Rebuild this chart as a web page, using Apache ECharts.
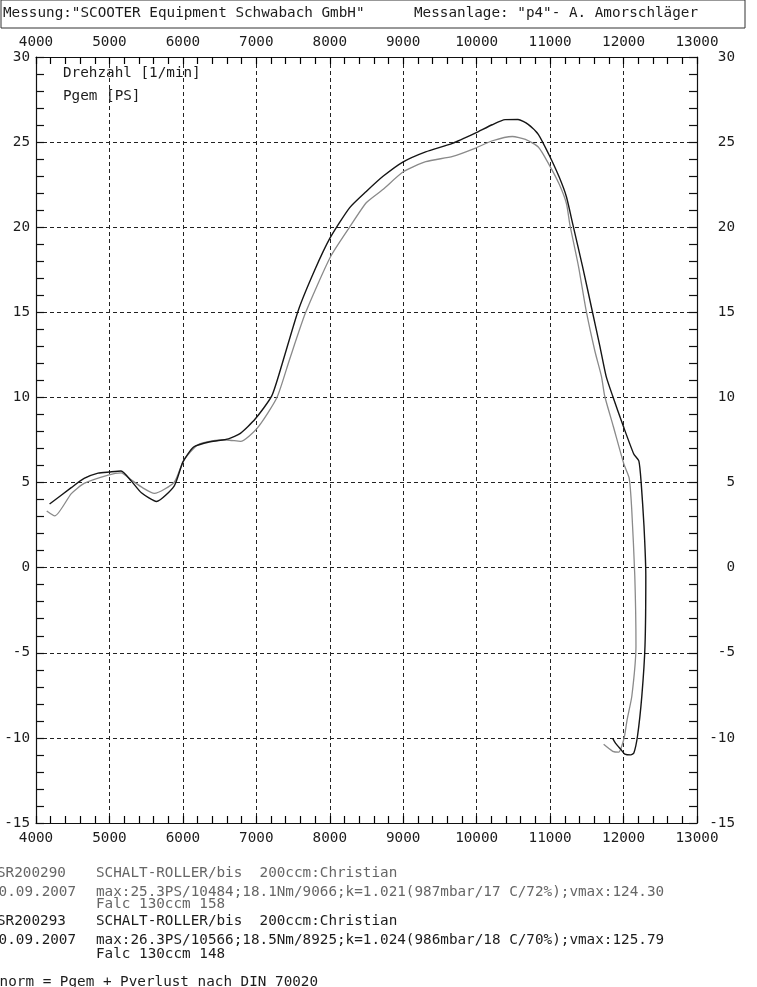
<!DOCTYPE html>
<html>
<head>
<meta charset="utf-8">
<script src="https://cdn.jsdelivr.net/npm/echarts@6/dist/echarts.min.js"></script>
<style>
html,body{margin:0;padding:0;background:#fff;}
#chart{width:757px;height:987px;}
</style>
</head>
<body>
<div id="chart"></div>
<script>
// ---- data ----
const rpmTicks = [4000, 5000, 6000, 7000, 8000, 9000, 10000, 11000, 12000, 13000];
const psTicks = [-15, -10, -5, 0, 5, 10, 15, 20, 25, 30];

// run SR200293 (black, max 26.3 PS / 10566)
const rpmBlack = [4185, 4480, 4655, 4845, 5000, 5158, 5296, 5435, 5641, 5883, 6000, 6146, 6376, 6620, 6783, 6984, 7210, 7352, 7571, 7794, 8004, 8269, 8497, 8725, 8994, 9305, 9670, 9981, 10211, 10387, 10563, 10701, 10839, 10980, 11122, 11222, 11310, 11442, 11575, 11678, 11763, 11853, 11996, 12139, 12208, 12240, 12278, 12303, 12292, 12249, 12190, 12140, 12099, 12017, 11962, 11892, 11851];
const psBlack = [3.74, 4.70, 5.24, 5.55, 5.62, 5.68, 5.10, 4.40, 3.89, 4.81, 6.20, 7.09, 7.40, 7.57, 7.89, 8.73, 10.09, 11.98, 15.11, 17.47, 19.37, 21.14, 22.10, 22.99, 23.83, 24.43, 24.93, 25.53, 26.02, 26.32, 26.33, 26.04, 25.46, 24.30, 22.96, 21.79, 20.15, 17.69, 15.05, 13.00, 11.24, 10.07, 8.32, 6.68, 6.27, 4.98, 2.46, -0.48, -4.59, -7.53, -9.89, -10.89, -11.0, -10.95, -10.67, -10.32, -10.02];

// run SR200290 (grey, max 25.3 PS / 10484)
const rpmGrey = [4146, 4256, 4481, 4655, 4982, 5158, 5296, 5450, 5612, 5882, 6013, 6200, 6400, 6600, 6785, 7013, 7279, 7447, 7667, 8008, 8274, 8500, 8728, 8996, 9307, 9675, 9985, 10215, 10486, 10664, 10842, 10982, 11123, 11223, 11269, 11387, 11493, 11611, 11699, 11744, 11860, 12005, 12076, 12111, 12153, 12169, 12113, 12050, 12013, 11975, 11935, 11853, 11729];
const psGrey = [3.33, 3.04, 4.35, 4.95, 5.44, 5.57, 5.16, 4.70, 4.36, 5.02, 6.32, 7.21, 7.45, 7.50, 7.42, 8.20, 9.98, 12.16, 14.94, 18.25, 20.03, 21.45, 22.23, 23.24, 23.85, 24.16, 24.65, 25.08, 25.33, 25.16, 24.70, 23.71, 22.54, 21.38, 20.15, 17.69, 15.05, 12.70, 11.24, 10.07, 8.31, 6.08, 5.27, 3.45, -0.49, -4.60, -7.54, -8.90, -9.89, -10.49, -10.84, -10.79, -10.38];

const headerLeft = 'Messung:"SCOOTER Equipment Schwabach GmbH"';
const headerRight = 'Messanlage: "p4"- A. Amorschläger';
const axisTitleX = 'Drehzahl [1/min]';
const axisTitleY = 'Pgem [PS]';
const run1 = ['SR200290', '10.09.2007', 'SCHALT-ROLLER/bis  200ccm:Christian', 'max:25.3PS/10484;18.1Nm/9066;k=1.021(987mbar/17 C/72%);vmax:124.30', 'Falc 130ccm 158'];
const run2 = ['SR200293', '10.09.2007', 'SCHALT-ROLLER/bis  200ccm:Christian', 'max:26.3PS/10566;18.5Nm/8925;k=1.024(986mbar/18 C/70%);vmax:125.79', 'Falc 130ccm 148'];
const footNote = 'Pnorm = Pgem + Pverlust nach DIN 70020';

// ---- chart ----
const FONT = '"DejaVu Sans Mono", "Liberation Mono", monospace';
const FS = 14.3;
const INK = '#1c1c1c';
const GREY_INK = '#666';

function zip(xs, ys) { return xs.map((x, i) => [x, ys[i]]); }
const plain = v => String(v);

const lineCol = '#111';
const rpmMin = rpmTicks[0], rpmMax = rpmTicks[rpmTicks.length - 1];
const psMin = psTicks[0], psMax = psTicks[psTicks.length - 1];

function xAxisDef(pos, withGrid) {
  return {
    type: 'value', min: rpmMin, max: rpmMax, interval: 1000, position: pos,
    axisLine: { show: true, onZero: false, lineStyle: { color: lineCol, width: 1.2 } },
    axisTick: { show: true, inside: true, length: 7, lineStyle: { color: '#000', width: 1.2 } },
    minorTick: { show: true, splitNumber: 5, length: 7, lineStyle: { color: '#000', width: 1.2 } },
    axisLabel: { fontFamily: FONT, fontSize: FS, color: INK, margin: 8, formatter: plain },
    splitLine: { show: withGrid, lineStyle: { color: '#222', type: [4, 3], width: 1 } }
  };
}
function yAxisDef(pos, withGrid, labelMargin) {
  return {
    type: 'value', min: psMin, max: psMax, interval: 5, position: pos,
    axisLine: { show: true, onZero: false, lineStyle: { color: lineCol, width: 1.2 } },
    axisTick: { show: true, inside: true, length: 8, lineStyle: { color: lineCol, width: 1.2 } },
    minorTick: { show: true, splitNumber: 5, length: 8, lineStyle: { color: lineCol, width: 1.2 } },
    axisLabel: { fontFamily: FONT, fontSize: FS, color: INK, formatter: plain, margin: labelMargin, align: 'right' },
    splitLine: { show: withGrid, lineStyle: { color: '#222', type: [4, 3], width: 1 } }
  };
}

const option = {
  backgroundColor: '#fff',
  animation: false,
  grid: { left: 36, top: 57, width: 661, height: 766 },
  xAxis: [xAxisDef('bottom', true), xAxisDef('top', false)],
  yAxis: [yAxisDef('left', true, 6), yAxisDef('right', false, 38)],
  series: [
    {
      name: 'SR200290', type: 'line', xAxisIndex: 0, yAxisIndex: 0,
      data: zip(rpmGrey, psGrey), showSymbol: false, smooth: 0.2,
      lineStyle: { color: '#8a8a8a', width: 1.3 }
    },
    {
      name: 'SR200293', type: 'line', xAxisIndex: 0, yAxisIndex: 0,
      data: zip(rpmBlack, psBlack), showSymbol: false, smooth: 0.2,
      lineStyle: { color: '#151515', width: 1.4 }
    }
  ],
  graphic: [
    { type: 'rect', shape: { x: 1, y: 0, width: 744, height: 28 }, style: { fill: 'none', stroke: '#333', lineWidth: 1 } },
    { type: 'text', left: 3, top: 6, style: { text: headerLeft, font: FS + 'px ' + FONT, fill: INK } },
    { type: 'text', left: 414, top: 6, style: { text: headerRight, font: FS + 'px ' + FONT, fill: INK } },
    { type: 'text', left: 63, top: 66, style: { text: axisTitleX, font: FS + 'px ' + FONT, fill: INK } },
    { type: 'text', left: 63, top: 89, style: { text: axisTitleY, font: FS + 'px ' + FONT, fill: INK } },

    { type: 'text', x: -3, y: 866, style: { text: run1[0], font: FS + 'px ' + FONT, fill: GREY_INK } },
    { type: 'text', x: -10, y: 885, style: { text: run1[1], font: FS + 'px ' + FONT, fill: GREY_INK } },
    { type: 'text', x: 96, y: 866, style: { text: run1[2], font: FS + 'px ' + FONT, fill: GREY_INK } },
    { type: 'text', x: 96, y: 885, style: { text: run1[3], font: FS + 'px ' + FONT, fill: GREY_INK } },
    { type: 'text', x: 96, y: 897, style: { text: run1[4], font: FS + 'px ' + FONT, fill: GREY_INK } },

    { type: 'text', x: -3, y: 914, style: { text: run2[0], font: FS + 'px ' + FONT, fill: INK } },
    { type: 'text', x: -10, y: 933, style: { text: run2[1], font: FS + 'px ' + FONT, fill: INK } },
    { type: 'text', x: 96, y: 914, style: { text: run2[2], font: FS + 'px ' + FONT, fill: INK } },
    { type: 'text', x: 96, y: 933, style: { text: run2[3], font: FS + 'px ' + FONT, fill: INK } },
    { type: 'text', x: 96, y: 947, style: { text: run2[4], font: FS + 'px ' + FONT, fill: INK } },

    { type: 'text', x: -9, y: 975, style: { text: footNote, font: FS + 'px ' + FONT, fill: INK } }
  ]
};

const chart = echarts.init(document.getElementById('chart'), null, { renderer: 'canvas' });
chart.setOption(option);
</script>
</body>
</html>
